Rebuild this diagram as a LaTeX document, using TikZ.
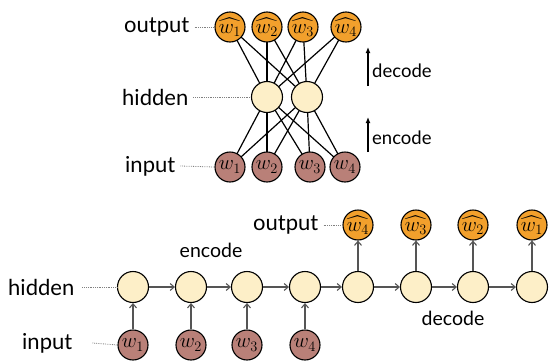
\documentclass[tikz,border=0pt]{standalone}
\usepackage{amsmath}
\usepackage{fontspec}
\setmainfont{Lato}
\usetikzlibrary{arrows.meta}
\definecolor{outc}{RGB}{242,160,44}
\definecolor{hidc}{RGB}{253,239,200}
\definecolor{inc}{RGB}{185,128,120}
\definecolor{arrc}{RGB}{85,85,85}
\tikzset{
  outn/.style={circle,draw=black,line width=1.1pt,fill=outc,minimum size=30pt,inner sep=0pt,font=\fontsize{21}{23}\selectfont},
  hidn/.style={circle,draw=black,line width=1.1pt,fill=hidc,minimum size=31pt,inner sep=0pt},
  inn/.style={circle,draw=black,line width=1.1pt,fill=inc,minimum size=30pt,inner sep=0pt,font=\fontsize{21}{23}\selectfont},
  lab/.style={font=\fontsize{22}{24}\selectfont,inner sep=0pt},
  sublab/.style={font=\fontsize{18.5}{20}\selectfont,inner sep=0pt},
  dots/.style={densely dotted,gray,line width=0.8pt},
  conn/.style={black,line width=1.2pt},
  flow/.style={arrc,line width=1.1pt,-{Straight Barb[length=4pt,width=7pt]}},
  bigarr/.style={black,line width=1.2pt,-{Latex[length=6pt,width=5pt]}}
}
\begin{document}
\begin{tikzpicture}[x=1pt,y=-1pt]
\useasboundingbox (0,0) rectangle (550,362);
% ---------- top: autoencoder ----------
\node[lab,anchor=west] (tout) at (124,27) {output};
\node[lab,anchor=west] (thid) at (122,97) {hidden};
\node[lab,anchor=west] (tin) at (125,166) {input};
% connections (drawn first)
\coordinate (h1c) at (267,97);
\coordinate (h2c) at (307,97);
\foreach \x [count=\i] in {230,267,303,346} {
  \coordinate (o\i c) at (\x,27);
}
\foreach \x [count=\i] in {230,267,310,345} {
  \coordinate (i\i c) at (\x,167);
}
\foreach \i in {1,2,3,4} {
  \foreach \h in {1,2} {
    \draw[conn] (o\i c) -- (h\h c);
    \draw[conn] (i\i c) -- (h\h c);
  }
}
\node[hidn] (th1) at (h1c) {};
\node[hidn] (th2) at (h2c) {};
\node[outn] (to1) at (o1c) {$\widehat{w_1}$};
\node[outn] (to2) at (o2c) {$\widehat{w_2}$};
\node[outn] (to3) at (o3c) {$\widehat{w_3}$};
\node[outn] (to4) at (o4c) {$\widehat{w_4}$};
\node[inn] (ti1) at (i1c) {$w_1$};
\node[inn] (ti2) at (i2c) {$w_2$};
\node[inn] (ti3) at (i3c) {$w_3$};
\node[inn] (ti4) at (i4c) {$w_4$};
\draw[dots] ([xshift=5pt]tout.east) -- (to1.west);
\draw[dots] ([xshift=5pt]thid.east) -- (th1.west);
\draw[dots] ([xshift=5pt]tin.east) -- (ti1.west);
% side arrows
\coordinate (dA) at (368,86);
\coordinate (dB) at (368,47);
\coordinate (eA) at (368,152);
\coordinate (eB) at (368,117);
\draw[bigarr] (dA) -- (dB);
\draw[bigarr] (eA) -- (eB);
\node[sublab,anchor=west] (tdec) at (372,71) {decode};
\node[sublab,anchor=west] (tenc) at (372,138) {encode};
% ---------- bottom: seq2seq ----------
\node[lab,anchor=west] (bhid) at (8,287) {hidden};
\node[lab,anchor=west] (bin) at (22,343) {input};
\node[lab,anchor=west] (bout) at (253,225) {output};
\foreach \x [count=\i] in {133,191,247,305,358,416,473,532} {
  \node[hidn] (bh\i) at (\x,287) {};
}
\node[inn] (bi1) at (133,345) {$w_1$};
\node[inn] (bi2) at (191,345) {$w_2$};
\node[inn] (bi3) at (247,345) {$w_3$};
\node[inn] (bi4) at (305,345) {$w_4$};
\node[outn] (bo1) at (358,225) {$\widehat{w_4}$};
\node[outn] (bo2) at (416,225) {$\widehat{w_3}$};
\node[outn] (bo3) at (473,225) {$\widehat{w_2}$};
\node[outn] (bo4) at (532,225) {$\widehat{w_1}$};
\foreach \a/\b in {1/2,2/3,3/4,4/5,5/6,6/7,7/8} {
  \draw[flow] (bh\a) -- (bh\b);
}
\foreach \i in {1,2,3,4} {
  \draw[flow] (bi\i) -- (bh\i);
}
\draw[flow] (bh5) -- (bo1);
\draw[flow] (bh6) -- (bo2);
\draw[flow] (bh7) -- (bo3);
\draw[flow] (bh8) -- (bo4);
\draw[dots] ([xshift=8pt]bhid.east) -- (bh1.west);
\draw[dots] ([xshift=20pt]bin.east) -- (bi1.west);
\draw[dots] ([xshift=5pt]bout.east) -- (bo1.west);
\node[sublab,font=\fontsize{19.5}{21}\selectfont] (benc) at (211,250) {encode};
\node[sublab,font=\fontsize{19.5}{21}\selectfont] (bdec) at (453,318) {decode};
\end{tikzpicture}
\end{document}
